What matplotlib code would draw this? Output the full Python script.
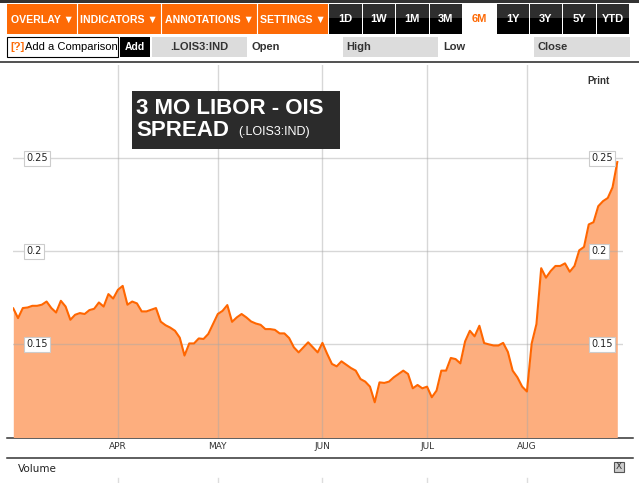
#!/usr/bin/python3
# -*- coding: utf-8 -*-

"""
3 month LIBOR - OIS spread, 6 month view (screenshot style)
"""

import pandas as pd
import matplotlib

matplotlib.use("Agg")
import matplotlib.pyplot as plt
from matplotlib.patches import Rectangle
from matplotlib import transforms

# daily closes (Mar 2 - Aug 26)
dates = pd.bdate_range("2011-03-02", "2011-08-26")
spread = [
    0.1693, 0.1641, 0.1695, 0.1698, 0.1707, 0.1707, 0.1713, 0.1730, 0.1695, 0.1671,
    0.1734, 0.1703, 0.1632, 0.1659, 0.1668, 0.1663, 0.1684, 0.1691, 0.1725, 0.1703,
    0.1770, 0.1746, 0.1793, 0.1814, 0.1713, 0.1730, 0.1720, 0.1677, 0.1677, 0.1686,
    0.1695, 0.1622, 0.1603, 0.1590, 0.1573, 0.1536, 0.1440, 0.1505, 0.1505, 0.1532,
    0.1529, 0.1556, 0.1609, 0.1663, 0.1680, 0.1711, 0.1621, 0.1645, 0.1663, 0.1645,
    0.1623, 0.1612, 0.1605, 0.1582, 0.1582, 0.1578, 0.1559, 0.1559, 0.1534, 0.1484,
    0.1457, 0.1484, 0.1511, 0.1484, 0.1457, 0.1508, 0.1449, 0.1395, 0.1382, 0.1409,
    0.1391, 0.1373, 0.1359, 0.1314, 0.1300, 0.1273, 0.1189, 0.1296, 0.1293, 0.1300,
    0.1323, 0.1341, 0.1359, 0.1341, 0.1264, 0.1282, 0.1264, 0.1273, 0.1216, 0.1252,
    0.1359, 0.1359, 0.1427, 0.1421, 0.1398, 0.1516, 0.1573, 0.1543, 0.1600, 0.1507,
    0.1500, 0.1494, 0.1494, 0.1508, 0.1459, 0.1359, 0.1323, 0.1273, 0.1247, 0.1505,
    0.1609, 0.1909, 0.1858, 0.1894, 0.1921, 0.1921, 0.1935, 0.1890, 0.1921, 0.2005,
    0.2023, 0.2144, 0.2156, 0.2242, 0.2269, 0.2286, 0.2343, 0.2479,
]
y_ticks = [0.15, 0.2, 0.25]

menu_labels = ["OVERLAY ▼", "INDICATORS ▼", "ANNOTATIONS ▼", "SETTINGS ▼"]
range_labels = ["1D", "1W", "1M", "3M", "6M", "1Y", "3Y", "5Y", "YTD"]

ORANGE = "#fd6a06"
FILL = "#fdae7e"
SANS = ["Liberation Sans", "DejaVu Sans"]

x = list(range(len(spread)))
month_starts = [i for i in range(1, len(dates)) if dates[i].month != dates[i - 1].month]
month_labels = [dates[i].strftime("%b").upper() for i in month_starts]

fig = plt.figure(figsize=(6.39, 4.83), dpi=100)

# background layer in pixel coordinates
ui = fig.add_axes([0, 0, 1, 1])
ui.set_xlim(0, 639)
ui.set_ylim(483, 0)
ui.axis("off")

# chart
ax = fig.add_axes([13.3 / 639, (483 - 437.5) / 483, 609.7 / 639, (437.5 - 65) / 483])
ax.patch.set_alpha(0)
ax.fill_between(x, spread, 0.1, color=FILL, lw=0, zorder=1)
ax.plot(x, spread, color="#ff6600", lw=1.5, zorder=3)
ax.set_xlim(0, 128.2)
ax.set_ylim(0.1, 0.3)
ax.set_xticks(month_starts)
ax.set_yticks(y_ticks)
ax.set_axisbelow(False)
ax.grid(True, color="#a8a8a8", alpha=0.45, lw=1)
ax.tick_params(length=0, labelleft=False, labelbottom=False)
for s in ax.spines.values():
    s.set_visible(False)

# overlay layer in pixel coordinates
over = fig.add_axes([0, 0, 1, 1])
over.set_xlim(0, 639)
over.set_ylim(483, 0)
over.axis("off")
over.patch.set_alpha(0)

# --- toolbar row 1
ui.add_patch(Rectangle((0, 0), 639, 3, color="#333333", lw=0))
ui.add_patch(Rectangle((7, 4), 321, 29.5, color=ORANGE, lw=0))
menu_edges = [7, 77, 161, 257, 328]
for i, lab in enumerate(menu_labels):
    if i > 0:
        ui.plot([menu_edges[i], menu_edges[i]], [4, 33.5], color="white", lw=0.8)
    ui.text((menu_edges[i] + menu_edges[i + 1]) / 2, 19.5, lab, color="white",
            fontsize=7.6, fontweight="bold", ha="center", va="center", family=SANS)

range_edges = [329, 362.5, 396, 429.5, 462.5, 496.5, 530, 563, 597, 630]
for i, lab in enumerate(range_labels):
    x0, x1 = range_edges[i], range_edges[i + 1] - 1
    if lab == "6M":
        col = ORANGE
    else:
        ui.add_patch(Rectangle((x0, 4), x1 - x0, 14, color="#2e2e2e", lw=0))
        ui.add_patch(Rectangle((x0, 18), x1 - x0, 15.5, color="#000000", lw=0))
        col = "white"
    ui.text((x0 + x1) / 2, 19.5, lab, color=col, fontsize=8, fontweight="bold",
            ha="center", va="center", family=SANS)

# --- toolbar row 2
ui.add_patch(Rectangle((7, 37), 111, 20, fc="white", ec="black", lw=0.8))
ui.text(10, 47.5, "[?]", color=ORANGE, fontsize=8, fontweight="bold", va="center", family=SANS)
ui.text(25, 47.5, "Add a Comparison", color="black", fontsize=8, va="center", family=SANS)
ui.add_patch(Rectangle((120, 37), 30, 20, color="black", lw=0))
ui.text(135, 47.5, "Add", color="white", fontsize=7.5, fontweight="bold",
        ha="center", va="center", family=SANS)
ui.add_patch(Rectangle((152, 37), 95, 20, color="#dcdcdc", lw=0))
ui.text(199.5, 47.5, ".LOIS3:IND", color="#333333", fontsize=8, fontweight="bold",
        ha="center", va="center", family=SANS)
ui.text(251, 47.5, "Open", color="#333333", fontsize=8, fontweight="bold", va="center", family=SANS)
ui.add_patch(Rectangle((343, 37), 95, 20, color="#dcdcdc", lw=0))
ui.text(346, 47.5, "High", color="#333333", fontsize=8, fontweight="bold", va="center", family=SANS)
ui.text(443, 47.5, "Low", color="#333333", fontsize=8, fontweight="bold", va="center", family=SANS)
ui.add_patch(Rectangle((534, 37), 96, 20, color="#dcdcdc", lw=0))
ui.text(537, 47.5, "Close", color="#333333", fontsize=8, fontweight="bold", va="center", family=SANS)
ui.plot([0, 639], [61.7, 61.7], color="#333333", lw=1.2)

over.text(598, 81, "Print", color="#333333", fontsize=7, fontweight="bold",
          ha="center", va="center", family=SANS)

# --- title box
over.add_patch(Rectangle((132, 91), 208, 57.5, color="#2b2b2b", lw=0, zorder=5))
over.text(136.5, 113.5, "3 MO LIBOR - OIS", color="white", fontsize=16, fontweight="bold",
          va="baseline", family=SANS, zorder=6)
over.text(136.5, 135.5, "SPREAD", color="white", fontsize=16, fontweight="bold",
          va="baseline", family=SANS, zorder=6)
over.text(238, 135.5, "(.LOIS3:IND)", color="white", fontsize=9,
          va="baseline", family=SANS, zorder=6)

# --- y tick label boxes inside the chart
ytr = transforms.blended_transform_factory(over.transData, ax.transData)
for v in y_ticks:
    for xp in (26, 591):
        over.text(xp, v, f"{v:g}", transform=ytr, fontsize=7, color="#222222",
                  va="center", ha="left", family="DejaVu Sans", zorder=6,
                  bbox=dict(boxstyle="square,pad=0.25", fc="white", ec="#cccccc", lw=0.8))

# --- x axis and volume strip
ui.plot([7, 633], [437.8, 437.8], color="#333333", lw=1.1)
ui.plot([7, 633], [458.3, 458.3], color="#333333", lw=1.1)
xtr = transforms.blended_transform_factory(ax.transData, ui.transData)
for i, lab in zip(month_starts, month_labels):
    ui.text(i, 446.5, lab, transform=xtr, fontsize=6.5, color="#333333",
            ha="center", va="center", family="DejaVu Sans")
    ui.plot([i, i], [478, 483], transform=xtr, color="#dddddd", lw=1)
ui.text(18, 469, "Volume", fontsize=7.5, color="#222222", va="center", family="DejaVu Sans")
ui.add_patch(Rectangle((613.5, 461.5), 10.5, 10, fc="#cccccc", ec="#555555", lw=0.8))
ui.text(618.8, 466.6, "X", fontsize=6.5, color="#333333", ha="center", va="center",
        family="DejaVu Sans")

plt.savefig("out.png", dpi=100)
